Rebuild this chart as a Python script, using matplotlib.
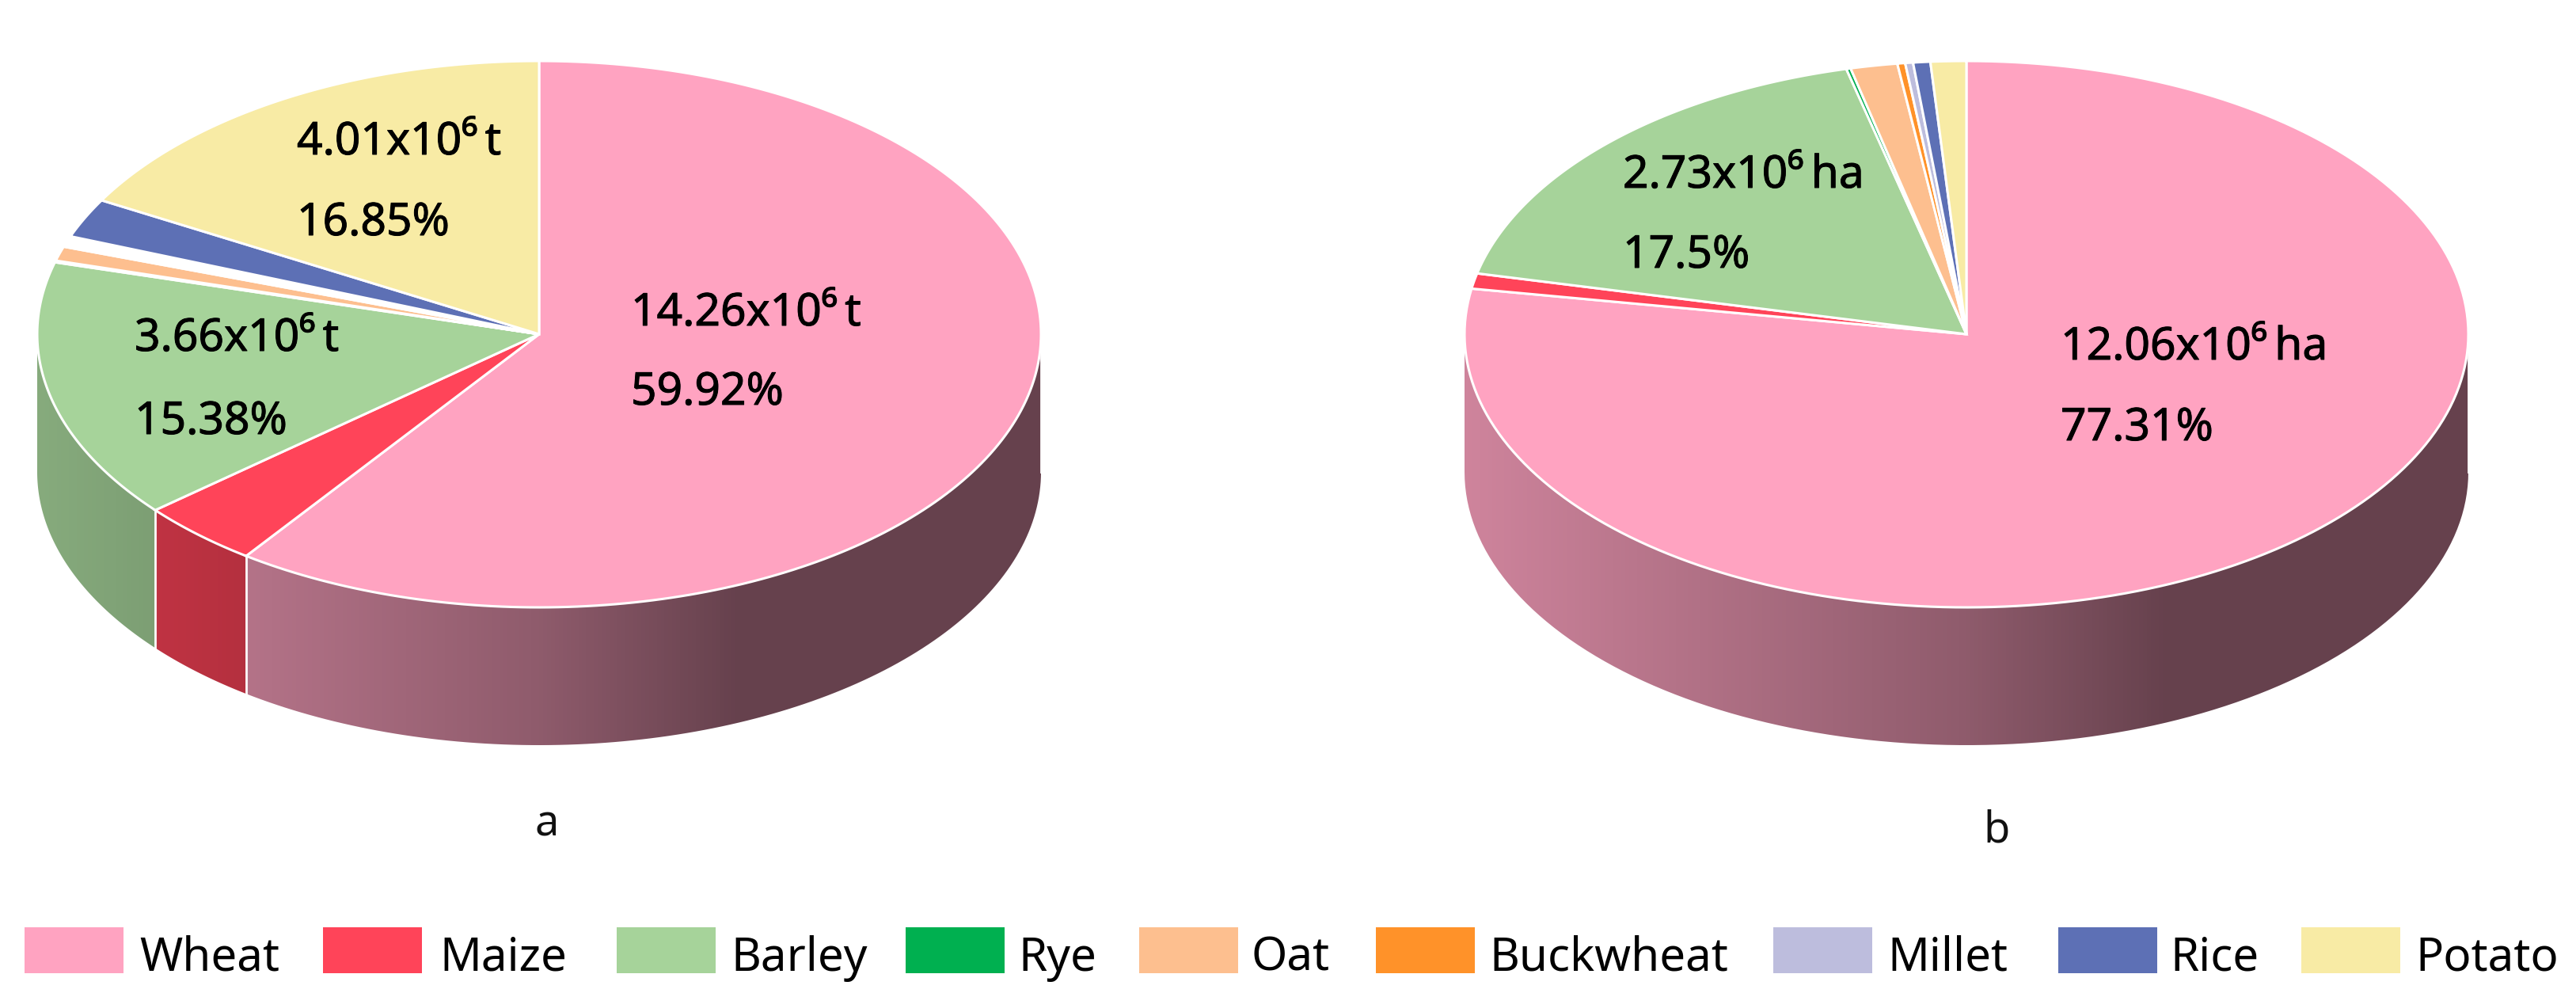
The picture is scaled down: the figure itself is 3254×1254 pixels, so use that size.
import numpy as np
import matplotlib
matplotlib.use("Agg")
import matplotlib.pyplot as plt
import matplotlib.patheffects as pe
from matplotlib.patches import Polygon, Rectangle
from matplotlib.colors import LinearSegmentedColormap

plt.rcParams['font.family'] = ['Noto Sans', 'DejaVu Sans']

crops = ["Wheat", "Maize", "Barley", "Rye", "Oat", "Buckwheat", "Millet", "Rice", "Potato"]
colors = ["#FFA3C1", "#FF4459", "#A6D39A", "#00B050", "#FDBF8F", "#FF9229", "#BDBDDD", "#5D70B5", "#F8EBA5"]

# share of each crop in %, clockwise from 12 o'clock
share_a = [59.92, 3.94, 15.38, 0.10, 0.85, 0.32, 0.32, 2.32, 16.85]
share_b = [77.31, 0.90, 17.50, 0.14, 1.50, 0.25, 0.25, 0.55, 1.14]

# slices too thin to show colour in panel a
hidden_a = ["Rye", "Buckwheat", "Millet"]

labels_a = [("14.26x10⁶\u2009t", 797, 411), ("59.92%", 797, 511),
            ("4.01x10⁶\u2009t", 375, 195), ("16.85%", 375, 297),
            ("3.66x10⁶\u2009t", 170, 443), ("15.38%", 170, 548)]
labels_b = [("12.06x10⁶\u2009ha", 2603, 454), ("77.31%", 2603, 556),
            ("2.73x10⁶\u2009ha", 2050, 237), ("17.5%", 2050, 338)]

# wall shading, dark multiplier along x
shade_x = [0.0, 0.5, 0.7, 1.0]
shade_k = [0.81, 0.56, 0.40, 0.40]

W, H = 3255, 1254
RX, RY, DEPTH = 634, 345, 174
CY = 422
bold = [pe.withStroke(linewidth=0.7, foreground="black")]


def pt(cx, deg, dy=0):
    t = np.radians(deg)
    return cx + RX * np.sin(t), CY - RY * np.cos(t) + dy


def draw_pie(ax, cx, shares, hidden):
    edges = np.cumsum([0] + shares) * 360 / sum(shares)
    # side walls first, only the front half of the rim shows
    for i, c in enumerate(colors):
        a0, a1 = max(edges[i], 90), min(edges[i + 1], 270)
        if a1 <= a0:
            continue
        deg = np.linspace(a0, a1, 120)
        xs, ys = pt(cx, deg)
        poly = np.vstack([np.c_[xs, ys], np.c_[xs, ys + DEPTH][::-1]])
        rgb = np.array(matplotlib.colors.to_rgb(c))
        cmap = LinearSegmentedColormap.from_list(
            "wall", [(x, tuple(rgb * k)) for x, k in zip(shade_x, shade_k)])
        im = ax.imshow(np.linspace(0, 1, 256)[None, :], cmap=cmap, aspect="auto",
                       extent=(cx - RX, cx + RX, CY + RY + DEPTH, CY), zorder=1)
        patch = Polygon(poly, closed=True, transform=ax.transData, fc="none", ec="none")
        ax.add_patch(patch)
        im.set_clip_path(patch)
        ax.plot([xs[0], xs[0]], [ys[0], ys[0] + DEPTH], color="white", lw=2, zorder=2)
    # top face
    for i, c in enumerate(colors):
        deg = np.linspace(edges[i], edges[i + 1], 200)
        xs, ys = pt(cx, deg)
        fc = "white" if crops[i] in hidden else c
        ax.add_patch(Polygon(np.vstack([[cx, CY], np.c_[xs, ys]]), closed=True,
                             fc=fc, ec="white", lw=2.2, zorder=3))


fig = plt.figure(figsize=(W / 100, H / 100), dpi=100)
ax = fig.add_axes([0, 0, 1, 1])

draw_pie(ax, 681, share_a, hidden_a)
draw_pie(ax, 2484, share_b, [])

for s, x, y in labels_a + labels_b:
    ax.text(x, y, s, fontsize=41, color="black", ha="left", va="baseline", zorder=5,
            path_effects=bold)

ax.text(691, 1056, "a", fontsize=39, color="#111111", ha="center", va="baseline")
ax.text(2522, 1064, "b", fontsize=39, color="#111111", ha="center", va="baseline")

# legend
swatch_x = [31, 408, 779, 1144, 1439, 1738, 2240, 2600, 2907]
text_x = [176, 555, 923, 1286, 1581, 1881, 2384, 2741, 3051]
for c, name, sx, tx in zip(colors, crops, swatch_x, text_x):
    ax.add_patch(Rectangle((sx, 1171), 125, 58, fc=c, ec="none"))
    ax.text(tx, 1226, name, fontsize=42, color="black", ha="left", va="baseline")

ax.set_xlim(0, W)
ax.set_ylim(H, 0)
ax.axis("off")
fig.savefig("out.png", dpi=100, facecolor="white")
